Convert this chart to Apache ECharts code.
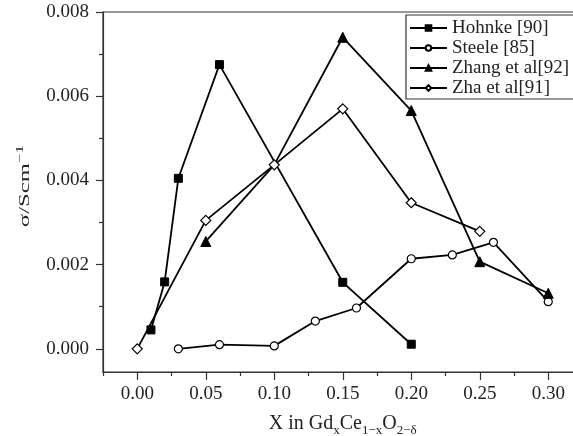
<!DOCTYPE html>
<html><head><meta charset="utf-8">
<script src="https://cdn.jsdelivr.net/npm/echarts@6/dist/echarts.min.js"></script>
<style>html,body{margin:0;padding:0;background:#fff}#c{width:573px;height:436px}</style>
</head><body><div id="c"></div>
<script>
// ---- data ----
const seriesNames = ['Hohnke [90]', 'Steele [85]', 'Zhang et al[92]', 'Zha et al[91]'];
const hohnkeX = [0.01, 0.02, 0.03, 0.06, 0.15, 0.20];
const hohnkeY = [0.00045, 0.00159, 0.00405, 0.00675, 0.00158, 0.00011];
const steeleX = [0.03, 0.06, 0.10, 0.13, 0.16, 0.20, 0.23, 0.26, 0.30];
const steeleY = [0.0, 0.0001, 0.00007, 0.00066, 0.00097, 0.00214, 0.00223, 0.00253, 0.00112];
const zhangX = [0.05, 0.10, 0.15, 0.20, 0.25, 0.30];
const zhangY = [0.00255, 0.00437, 0.0074, 0.00566, 0.00207, 0.00132];
const zhaX = [0.00, 0.05, 0.10, 0.15, 0.20, 0.25];
const zhaY = [0.0, 0.00305, 0.00437, 0.0057, 0.00347, 0.00279];
const xMajorTicks = [0.00, 0.05, 0.10, 0.15, 0.20, 0.25, 0.30];
const xMinorTicks = [-0.025, 0.025, 0.075, 0.125, 0.175, 0.225, 0.275, 0.325];
const yMajorTicks = [0.000, 0.002, 0.004, 0.006, 0.008];
const yMinorTicks = [0.001, 0.003, 0.005, 0.007];

const FONT = 'Liberation Serif';
const TXT = '#222';
const AX = '#333';

function pairs(xs, ys) { return xs.map((x, i) => [x, ys[i]]); }

const chart = echarts.init(document.getElementById('c'));
const axisLineStyle = { show: true, onZero: false, lineStyle: { color: AX, width: 1.2 } };
chart.setOption({
  animation: false,
  backgroundColor: '#fff',
  grid: { left: 103, top: 12, right: -9.5, bottom: 64, show: true, borderColor: AX, borderWidth: 1.2,
    containLabel: false, outerBoundsMode: 'none' },
  xAxis: [{
    type: 'value', min: -0.025, max: 0.325, position: 'bottom',
    axisLine: axisLineStyle,
    axisTick: { show: true, inside: false, length: 8, customValues: xMajorTicks, lineStyle: { color: AX, width: 1.2 } },
    axisLabel: { show: true, customValues: xMajorTicks, margin: 13, formatter: v => v.toFixed(2),
      fontFamily: FONT, fontSize: 19, color: TXT },
    splitLine: { show: false },
    name: '{m|X in Gd}{s|x}{m|Ce}{s|1−x}{m|O}{s|2−δ}',
    nameLocation: 'middle', nameGap: 42,
    nameTextStyle: {
      fontFamily: FONT, color: TXT,
      rich: {
        m: { fontFamily: FONT, fontSize: 20, lineHeight: 20, verticalAlign: 'top', color: TXT },
        s: { fontFamily: FONT, fontSize: 13, lineHeight: 13, verticalAlign: 'top', padding: [10, 0, 0, 0], color: TXT }
      }
    }
  }, {
    type: 'value', min: -0.025, max: 0.325, position: 'bottom',
    axisLine: { show: false, onZero: false },
    axisTick: { show: true, inside: false, length: 4, customValues: xMinorTicks, lineStyle: { color: AX, width: 1.2 } },
    axisLabel: { show: false },
    splitLine: { show: false }
  }],
  yAxis: [{
    type: 'value', min: -0.00055, max: 0.008, position: 'left',
    axisLine: axisLineStyle,
    axisTick: { show: true, inside: false, length: 7, customValues: yMajorTicks, lineStyle: { color: AX, width: 1.2 } },
    axisLabel: { show: true, customValues: yMajorTicks, margin: 14, formatter: v => v.toFixed(3),
      fontFamily: FONT, fontSize: 19, color: TXT },
    splitLine: { show: false }
  }, {
    type: 'value', min: -0.00055, max: 0.008, position: 'left',
    axisLine: { show: false, onZero: false },
    axisTick: { show: true, inside: false, length: 4, customValues: yMinorTicks, lineStyle: { color: AX, width: 1.2 } },
    axisLabel: { show: false },
    splitLine: { show: false }
  }],
  legend: {
    orient: 'vertical', left: 406, top: 15,
    data: seriesNames,
    backgroundColor: '#fff', borderColor: AX, borderWidth: 1.2,
    padding: [3, 6, 1, 3], itemGap: 0, itemWidth: 37, itemHeight: 7,
    textStyle: { fontFamily: FONT, fontSize: 19, lineHeight: 20, color: TXT }
  },
  graphic: [{
    type: 'text', x: 24, y: 186, rotation: Math.PI / 2, scaleX: 1.9, scaleY: 1.1,
    style: {
      text: '{a|σ/Scm}{s|−1}', align: 'center', verticalAlign: 'middle', fill: TXT,
      fontFamily: FONT, fontSize: 13,
      rich: {
        a: { fontFamily: FONT, fontSize: 13, lineHeight: 15, verticalAlign: 'bottom', fill: TXT },
        s: { fontFamily: FONT, fontSize: 9, lineHeight: 9, verticalAlign: 'top', fill: TXT }
      }
    }
  }],
  series: [{
    name: seriesNames[0], type: 'line', xAxisIndex: 0, yAxisIndex: 0,
    data: pairs(hohnkeX, hohnkeY),
    symbol: 'rect', symbolSize: 8,
    lineStyle: { color: '#000', width: 1.8 },
    itemStyle: { color: '#000', borderColor: '#000', borderWidth: 1 }
  }, {
    name: seriesNames[1], type: 'line', xAxisIndex: 0, yAxisIndex: 0,
    data: pairs(steeleX, steeleY),
    symbol: 'circle', symbolSize: 8, showAllSymbol: true,
    lineStyle: { color: '#000', width: 1.8 },
    itemStyle: { color: '#fff', borderColor: '#000', borderWidth: 1.2 }
  }, {
    name: seriesNames[2], type: 'line', xAxisIndex: 0, yAxisIndex: 0,
    data: pairs(zhangX, zhangY).map((p, i) => (zhangX[i] === 0.10 ? { value: p, symbol: 'none' } : p)),
    symbol: 'triangle', symbolSize: 10, showAllSymbol: true,
    lineStyle: { color: '#000', width: 1.8 },
    itemStyle: { color: '#000', borderColor: '#000', borderWidth: 1 }
  }, {
    name: seriesNames[3], type: 'line', xAxisIndex: 0, yAxisIndex: 0,
    data: pairs(zhaX, zhaY),
    symbol: 'diamond', symbolSize: 10, showAllSymbol: true,
    lineStyle: { color: '#000', width: 1.8 },
    itemStyle: { color: '#fff', borderColor: '#000', borderWidth: 1.2 }
  }]
});
</script>
</body></html>
